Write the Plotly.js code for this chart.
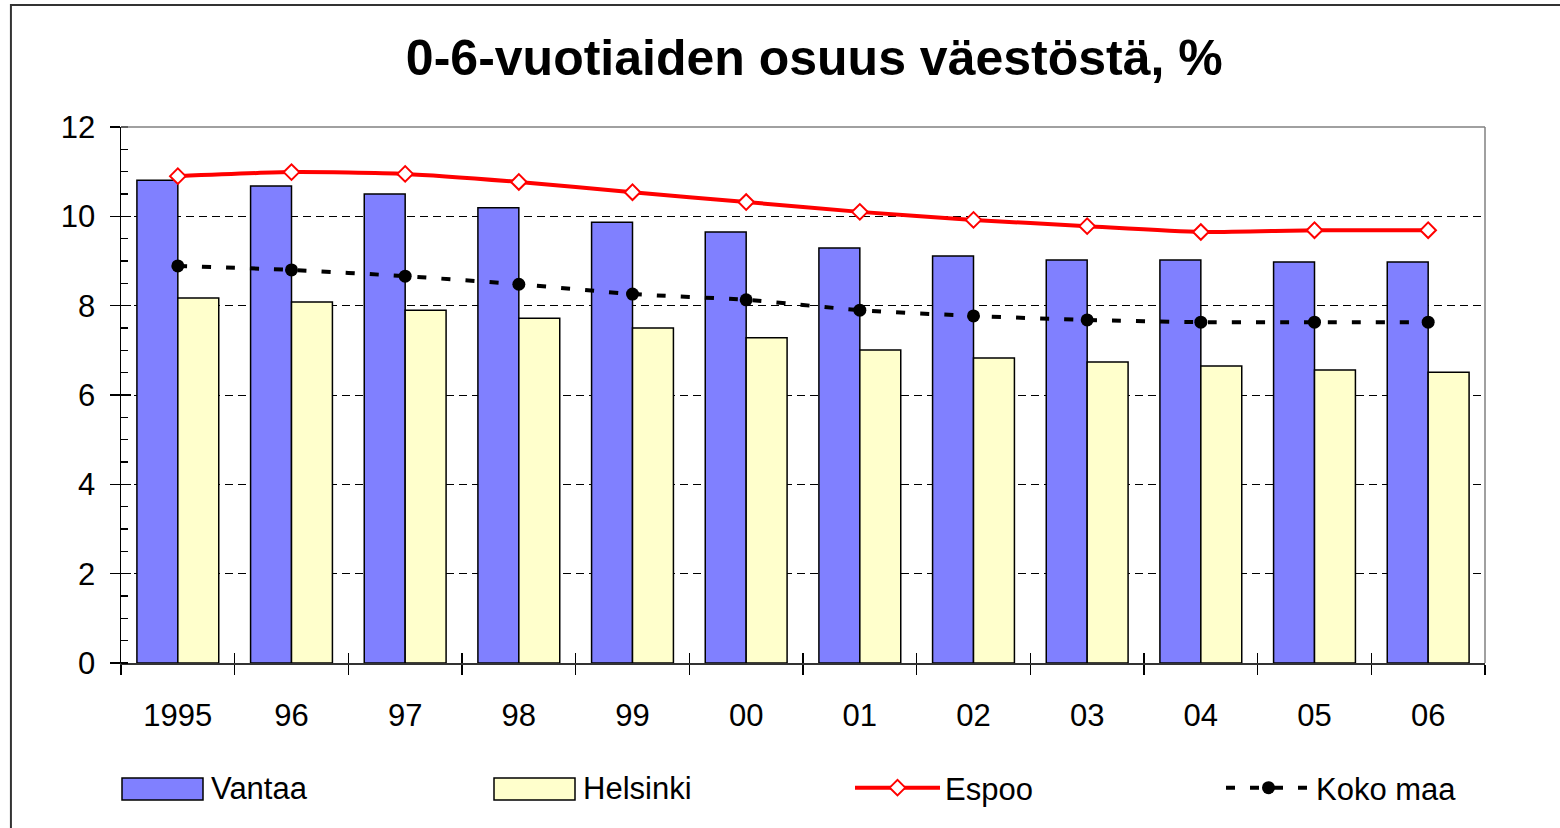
<!DOCTYPE html>
<html>
<head>
<meta charset="utf-8">
<script src="https://cdn.plot.ly/plotly-3.0.1.min.js"></script>
<style>html,body{margin:0;padding:0;background:#fff;}#chart{width:1560px;height:828px;}</style>
</head>
<body>
<div id="chart"></div>
<script>
const years = ['1995','96','97','98','99','00','01','02','03','04','05','06'];
const vantaa = [10.81, 10.68, 10.50, 10.19, 9.87, 9.65, 9.29, 9.11, 9.02, 9.02, 8.98, 8.98];
const helsinki = [8.17, 8.08, 7.90, 7.72, 7.50, 7.28, 7.01, 6.83, 6.74, 6.65, 6.56, 6.51];
const espoo = [10.90, 10.99, 10.95, 10.77, 10.54, 10.32, 10.10, 9.92, 9.78, 9.65, 9.69, 9.69];
const kokoMaa = [8.89, 8.80, 8.66, 8.48, 8.26, 8.13, 7.90, 7.77, 7.68, 7.63, 7.63, 7.63];
const seriesNames = ['Vantaa', 'Helsinki', 'Espoo', 'Koko maa'];

const FONT = 'Arial, "Liberation Sans", sans-serif';
const VANTAA_COLOR = '#8080FF', HELSINKI_COLOR = '#FFFFCC';

const traces = [
  {type:'bar', name:seriesNames[0], x:years, y:vantaa, showlegend:false,
   marker:{color:VANTAA_COLOR, line:{color:'#000', width:1.5}}, hoverinfo:'skip'},
  {type:'bar', name:seriesNames[1], x:years, y:helsinki, showlegend:false,
   marker:{color:HELSINKI_COLOR, line:{color:'#000', width:1.5}}, hoverinfo:'skip'},
  {type:'scatter', mode:'lines+markers', name:seriesNames[2], x:years, y:espoo, legend:'legend3',
   line:{color:'#FF0000', width:4, shape:'spline', smoothing:0.6},
   marker:{symbol:'diamond', size:12, color:'#FFFFFF', line:{color:'#FF0000', width:2}}, hoverinfo:'skip'},
  {type:'scatter', mode:'lines+markers', name:seriesNames[3], x:years, y:kokoMaa, legend:'legend4',
   line:{color:'#000000', width:4, dash:'9px,15px', shape:'spline', smoothing:0.6},
   marker:{symbol:'circle', size:13, color:'#000000'}, hoverinfo:'skip'},
  {type:'scatter', mode:'markers', x:years, y:vantaa, xaxis:'x2', yaxis:'y2',
   marker:{opacity:0}, showlegend:false, hoverinfo:'skip'}
];

// plot-area pixel helpers for legend placement (plot: x 121..1485, y 127..663)
const px = v => (v - 121) / 1364;
const py = v => (663 - v) / 536;

const legendCommon = {orientation:'h', yanchor:'middle', y:py(788), xanchor:'left', itemwidth:85,
  font:{size:31, color:'#000', family:FONT}, bgcolor:'rgba(0,0,0,0)', borderwidth:0};

const layout = {
  width:1560, height:828,
  paper_bgcolor:'#fff', plot_bgcolor:'#fff',
  margin:{l:121, r:75, t:127, b:165, autoexpand:false},
  font:{family:FONT, color:'#000', size:31},
  title:{text:'<b>0-6-vuotiaiden osuus väestöstä, %</b>', font:{family:FONT, size:50, color:'#000'},
         x:0.522, xref:'container', xanchor:'center', y:0.93, yref:'container', yanchor:'middle'},
  barmode:'group', bargap:0.28, bargroupgap:0,
  xaxis:{type:'category', range:[-0.5,11.5], tickson:'boundaries', ticks:'outside', ticklen:10, tickwidth:1.5,
         tickcolor:'#000', showline:true, linecolor:'#333', linewidth:1.5, showgrid:false,
         tickfont:{size:31}, ticklabelstandoff:24, fixedrange:true},
  yaxis:{range:[0,12], dtick:2, ticks:'outside', ticklen:10, tickwidth:1.5, tickcolor:'#000',
         showline:true, linecolor:'#000', linewidth:1.5, showgrid:true, gridcolor:'#000', gridwidth:1,
         griddash:'8px,5px', zeroline:false, tickfont:{size:31}, ticklabelstandoff:8,
         minor:{dtick:0.5, ticks:'inside', ticklen:7, tickwidth:1.2, tickcolor:'#000', showgrid:false}},
  xaxis2:{type:'category', overlaying:'x', range:[-0.5,11.5], tickson:'boundaries', ticks:'inside', ticklen:10,
          tickwidth:1.5, tickcolor:'#000', showticklabels:false, showgrid:false, showline:false},
  yaxis2:{overlaying:'y', range:[0,12], dtick:2, ticks:'inside', ticklen:10, tickwidth:1.5, tickcolor:'#000',
          showticklabels:false, showgrid:false, showline:false, zeroline:false},
  legend3:Object.assign({}, legendCommon, {x:px(850)}),
  legend4:Object.assign({}, legendCommon, {x:px(1221)}),
  shapes:[
    {type:'line', xref:'paper', yref:'paper', x0:0, x1:1, y0:1, y1:1, line:{color:'#808080', width:1.5}},
    {type:'line', xref:'paper', yref:'paper', x0:1, x1:1, y0:0, y1:1, line:{color:'#808080', width:1.5}},
    {type:'rect', xref:'paper', yref:'paper', x0:-0.0807, x1:1.2, y0:-0.5, y1:1.2276,
     line:{color:'#333', width:2}, fillcolor:'rgba(0,0,0,0)', layer:'below'},
    // legend swatches for the bar series
    {type:'rect', xref:'paper', yref:'paper', x0:px(122), x1:px(203), y0:py(800), y1:py(778),
     line:{color:'#000', width:1.5}, fillcolor:VANTAA_COLOR},
    {type:'rect', xref:'paper', yref:'paper', x0:px(494), x1:px(575), y0:py(800), y1:py(778),
     line:{color:'#000', width:1.5}, fillcolor:HELSINKI_COLOR}
  ],
  annotations:[
    {xref:'paper', yref:'paper', x:px(209), y:py(788), xanchor:'left', yanchor:'middle', showarrow:false,
     text:seriesNames[0], font:{size:31, color:'#000', family:FONT}},
    {xref:'paper', yref:'paper', x:px(581), y:py(788), xanchor:'left', yanchor:'middle', showarrow:false,
     text:seriesNames[1], font:{size:31, color:'#000', family:FONT}}
  ],
  showlegend:true
};

Plotly.newPlot('chart', traces, layout, {staticPlot:true});
</script>
</body>
</html>
